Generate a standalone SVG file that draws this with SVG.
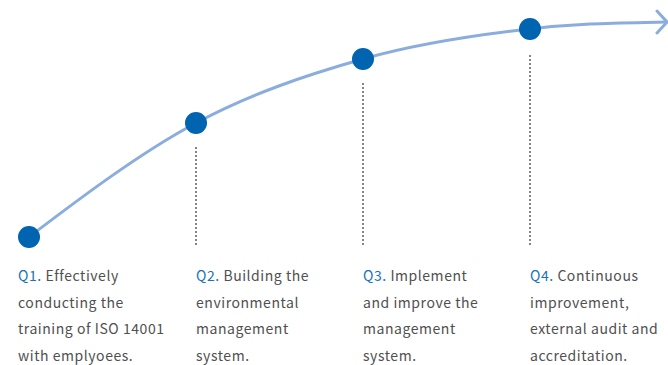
<svg xmlns="http://www.w3.org/2000/svg" width="668" height="365" viewBox="0 0 668 365">
<style>
.curve{fill:none;stroke:#8badde;stroke-width:3;stroke-linecap:round}
.dot{fill:#0064b1}
.dash{stroke:#333;stroke-width:1.2;stroke-dasharray:2 2}
text{font-family:"Noto Sans CJK SC","Noto Sans",sans-serif;font-size:14px;fill:#505050;letter-spacing:0.55px}
.q{fill:#1b72b8}
</style>
<rect width="668" height="365" fill="#fff"/>
<g id="connectors">
<path class="curve" d="M29,237 C79,199 140.3,152.7 196,123 C251.7,93.3 307.3,74.7 363,59 C418.7,43.3 474.3,35.2 530,29 C580.7,22.8 621.3,23 666,22"/>
<path class="curve" d="M657,11 L667,22 L657,33"/>
<line class="dash" x1="196" y1="147" x2="196" y2="247"/>
<line class="dash" x1="363" y1="83" x2="363" y2="247"/>
<line class="dash" x1="530" y1="55" x2="530" y2="247"/>
</g>
<g id="q1">
<circle class="dot" cx="29" cy="237" r="11"/>
<text x="18" y="281"><tspan class="q">Q1.</tspan> Effectively</text>
<text x="18" y="307.5">conducting the</text>
<text x="18" y="334">training of ISO 14001</text>
<text x="18" y="360.5">with emplyoees.</text>
</g>
<g id="q2">
<circle class="dot" cx="196" cy="123" r="11"/>
<text x="196" y="281"><tspan class="q">Q2.</tspan> Building the</text>
<text x="196" y="307.5">environmental</text>
<text x="196" y="334">management</text>
<text x="196" y="360.5">system.</text>
</g>
<g id="q3">
<circle class="dot" cx="363" cy="59" r="11"/>
<text x="363" y="281"><tspan class="q">Q3.</tspan> Implement</text>
<text x="363" y="307.5">and improve the</text>
<text x="363" y="334">management</text>
<text x="363" y="360.5">system.</text>
</g>
<g id="q4">
<circle class="dot" cx="530" cy="29" r="11"/>
<text x="530" y="281"><tspan class="q">Q4.</tspan> Continuous</text>
<text x="530" y="307.5">improvement,</text>
<text x="530" y="334">external audit and</text>
<text x="530" y="360.5">accreditation.</text>
</g>
</svg>
